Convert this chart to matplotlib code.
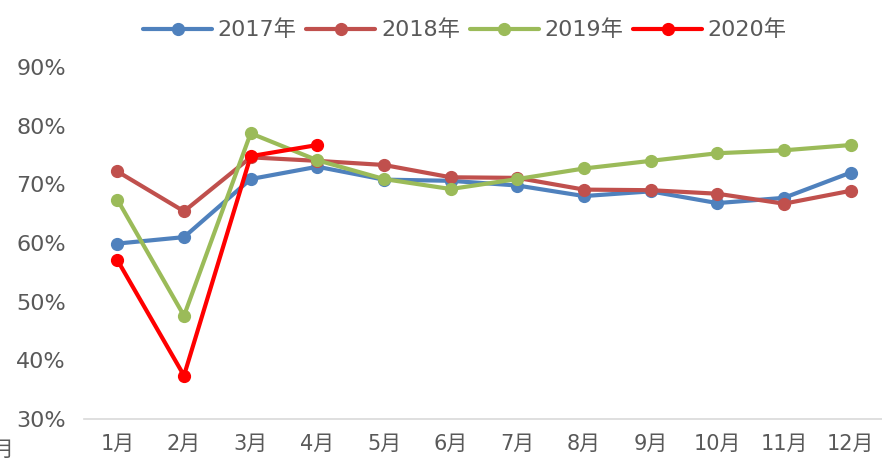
import numpy as np
import matplotlib.pyplot as plt
from matplotlib.ticker import FuncFormatter

plt.rcParams['font.family'] = ['DejaVu Sans', 'Noto Sans CJK SC']

months = ['1月', '2月', '3月', '4月', '5月', '6月', '7月', '8月', '9月', '10月', '11月', '12月']
rate_2017 = [59.9, 61.0, 70.9, 73.0, 70.8, 70.6, 69.8, 68.0, 68.8, 66.8, 67.7, 72.0]
rate_2018 = [72.2, 65.4, 74.6, 74.0, 73.3, 71.2, 71.1, 69.1, 69.0, 68.4, 66.7, 68.9]
rate_2019 = [67.4, 47.6, 78.7, 74.1, 70.9, 69.2, 70.9, 72.7, 74.0, 75.3, 75.8, 76.7]
rate_2020 = [57.1, 37.4, 74.8, 76.7]

series = [('2017年', rate_2017, '#4f81bd'),
          ('2018年', rate_2018, '#c0504d'),
          ('2019年', rate_2019, '#9bbb59'),
          ('2020年', rate_2020, '#ff0000')]

fig = plt.figure(figsize=(8.82, 4.62), dpi=100)
ax = fig.add_axes([84 / 882, 1 - 419 / 462, 800 / 882, 352 / 462])

x = np.arange(len(months))
for name, vals, col in series:
    ax.plot(x[:len(vals)], vals, color=col, lw=3, marker='o', ms=8.5,
            label=name, solid_capstyle='round', clip_on=False)

ax.set_xlim(-0.5, 11.5)
ax.set_ylim(30, 90)
ax.set_yticks(np.arange(30, 91, 10))
ax.yaxis.set_major_formatter(FuncFormatter(lambda v, p: '%d%%' % v))
ax.set_xticks(x)
ax.set_xticklabels(months)
ax.tick_params(axis='both', length=0, colors='#595959')
ax.tick_params(axis='x', pad=11, labelsize=15)
ax.tick_params(axis='y', pad=13, labelsize=16)

for s in ['top', 'right', 'left']:
    ax.spines[s].set_visible(False)
ax.spines['bottom'].set_color('#d9d9d9')
ax.spines['bottom'].set_linewidth(1.2)

fig.legend(loc='center', bbox_to_anchor=(0.527, 1 - 30 / 462), ncol=4,
           frameon=False, fontsize=16, labelcolor='#595959',
           handlelength=3.1, handletextpad=0.25, columnspacing=0.45)

# cropped fragment at the left edge of the original image
fig.text(-0.009, 1 - 450 / 462, '月', color='#595959', fontsize=15,
         ha='left', va='center')

fig.savefig('out.png', dpi=100)
